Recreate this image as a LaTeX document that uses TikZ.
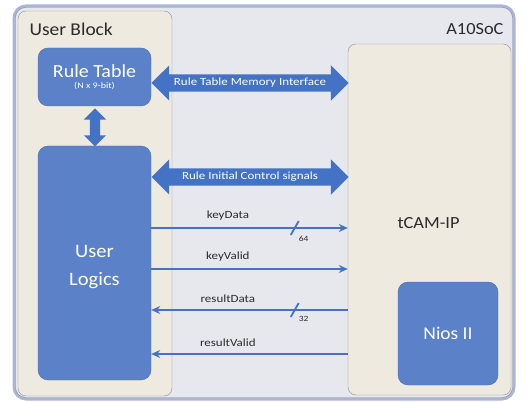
\documentclass[tikz,border=0pt]{standalone}
\usepackage{fontspec}
\setmainfont{Carlito}[FakeStretch=1.08]
\newfontfamily\widefont{Carlito}[FakeStretch=1.18]
\usetikzlibrary{arrows.meta,shapes.arrows,positioning}

\definecolor{socgray}{HTML}{E6E8EE}
\definecolor{socedge}{HTML}{A9B6D8}
\definecolor{blockbeige}{HTML}{EFEADF}
\definecolor{framegray}{HTML}{8E929C}
\definecolor{logicblue}{HTML}{5B81C9}
\definecolor{linkblue}{HTML}{4472C4}
\definecolor{labelgray}{HTML}{2B2B2B}

\tikzset{
  block/.style={draw=framegray, fill=blockbeige, rounded corners=8pt, inner sep=0pt},
  logic/.style={fill=logicblue, draw=logicblue!85!black, rounded corners=10pt, text=white, align=center, inner sep=0pt},
  bus/.style={double arrow, fill=linkblue, text=white, font=\widefont\fontsize{11}{12}\selectfont,
    inner xsep=0pt, inner ysep=3.5pt, text height=7.5pt, text depth=2.5pt, double arrow head extend=9pt},
  sig/.style={draw=linkblue, line width=2.5pt, -{Stealth[length=9pt,width=8pt]}},
  siglabel/.style={font=\widefont\fontsize{11}{13}\selectfont, text=labelgray},
  buswidth/.style={font=\widefont\fontsize{8}{9}\selectfont, text=labelgray, inner sep=0pt}
}

\begin{document}
\begin{tikzpicture}[x=1pt,y=-1pt]
\useasboundingbox (0,0) rectangle (527,403);
% A10SoC frame
\node[draw=socedge, line width=3pt, fill=socgray, rounded corners=12pt, minimum width=500pt, minimum height=393pt] (soc) at (264,202.5) {};
\draw[framegray, rounded corners=10pt] ([shift={(3,3)}]soc.north west) rectangle ([shift={(-3,-3)}]soc.south east);
\node[anchor=east, font=\fontsize{17}{20}\selectfont, text=labelgray] (soclbl) at (507,29) {A10SoC};

% blocks
\node[block, minimum width=154pt, minimum height=385pt] (userblk) at (95,203.5) {};
\node[anchor=west, font=\fontsize{18}{20}\selectfont, text=labelgray] (userlbl) at (26,29) {User Block};
\node[block, minimum width=163pt, minimum height=351pt] (tcam) at (429.5,219.5) {};
\node[font=\fontsize{17}{20}\selectfont, text=labelgray] (tcamlbl) at ([shift={(-1,4)}]tcam.center) {tCAM-IP};

\node[logic, minimum width=113pt, minimum height=58pt] (ruletab) at (94.5,77)
  {{\fontsize{18.5}{19}\selectfont Rule Table}\\[-1pt]{\widefont\fontsize{8.5}{9}\selectfont (N x 9-bit)}};
\node[logic, minimum width=113pt, minimum height=234pt] (logics) at (94.5,263) {};
\node[font=\fontsize{19}{28}\selectfont, text=white, align=center] (logicslbl) at ([shift={(0,4)}]logics.center) {User\\Logics};
\node[logic, minimum width=100pt, minimum height=103pt, font=\fontsize{18}{20}\selectfont] (nios) at (448,333.5) {Nios II};

% wide buses
\node[bus, minimum height=197pt] (memif) at (250,83) {Rule Table Memory Interface};
\node[bus, minimum height=197pt] (initctl) at (250,177) {Rule Initial Control signals};
\node[bus, shape border rotate=90, minimum height=38pt, text height=0pt, text depth=0pt, inner sep=5pt, double arrow head extend=6pt] (rtlink) at (95,127.5) {};

% signals
\draw[sig] (logics.east |- 0,228) -- node[pos=.39, above=3pt, siglabel] (kdlbl) {keyData} coordinate[pos=.73] (kd) (tcam.west |- 0,228);
\draw[sig] (logics.east |- 0,269) -- node[pos=.39, above=3pt, siglabel] (kvlbl) {keyValid} (tcam.west |- 0,269);
\draw[sig] (tcam.west |- 0,310) -- node[pos=.61, above=3pt, siglabel] (rdlbl) {resultData} coordinate[pos=.27] (rd) (logics.east |- 0,310);
\draw[sig] (tcam.west |- 0,354) -- node[pos=.61, above=3pt, siglabel] (rvlbl) {resultValid} (logics.east |- 0,354);

% bus widths
\draw[linkblue, line width=1.8pt] ([shift={(-4,7)}]kd) -- ([shift={(4,-7)}]kd);
\node[buswidth, anchor=west] (kdw) at ([shift={(4,11)}]kd) {64};
\draw[linkblue, line width=1.8pt] ([shift={(-4,7)}]rd) -- ([shift={(4,-7)}]rd);
\node[buswidth, anchor=west] (rdw) at ([shift={(4,9)}]rd) {32};
\end{tikzpicture}
\end{document}
